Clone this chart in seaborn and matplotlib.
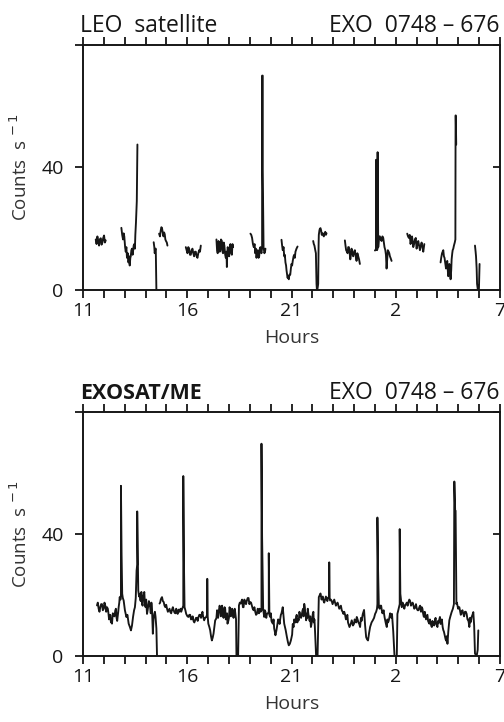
import numpy as np
import pandas as pd
import matplotlib
matplotlib.use("Agg")
import matplotlib.pyplot as plt
import seaborn as sns

sns.set_theme(style="white")
plt.rcParams["font.family"] = ["Open Sans", "DejaVu Sans"]

# ---------------- data (hours since 0h of day 1, counts/s) ----------------
# LEO satellite light curve: list of separate observation segments
leo_hours = [
    [11.61, 11.65, 11.69, 11.73, 11.77, 11.81, 11.85, 11.89, 11.93, 11.97, 12.01, 12.05, 12.09],
    [12.84, 12.88, 12.92, 12.95, 12.98, 13.02, 13.05, 13.08, 13.11, 13.15, 13.18, 13.21, 13.24,
     13.27, 13.29, 13.32, 13.35, 13.38, 13.40, 13.43, 13.46, 13.49, 13.51, 13.54, 13.58, 13.61],
    [14.39, 14.42, 14.44, 14.47, 14.49, 14.52],
    [14.65, 14.69, 14.73, 14.76, 14.79, 14.83, 14.86, 14.89, 14.92, 14.95, 14.98, 15.02, 15.05],
    [15.93, 15.97, 16.01, 16.05, 16.09, 16.13, 16.17, 16.21, 16.25, 16.29, 16.33, 16.37, 16.41,
     16.45, 16.49, 16.53, 16.57, 16.61, 16.65],
    [17.40, 17.43, 17.46, 17.50, 17.53, 17.56, 17.59, 17.62, 17.66, 17.69, 17.72, 17.75, 17.78,
     17.82, 17.85, 17.88, 17.90, 17.92, 17.94, 17.98, 18.01, 18.04, 18.07, 18.11, 18.14, 18.17, 18.20],
    [19.03, 19.07, 19.11, 19.15, 19.19, 19.23, 19.26, 19.29, 19.32, 19.35, 19.38, 19.42, 19.45,
     19.48, 19.51, 19.54, 19.56, 19.59, 19.59, 19.62, 19.62, 19.66, 19.68, 19.70, 19.73, 19.75],
    [20.52, 20.55, 20.58, 20.62, 20.65, 20.68, 20.71, 20.74, 20.76, 20.79, 20.81, 20.84, 20.87,
     20.90, 20.94, 20.97, 21.00, 21.03, 21.06, 21.10, 21.13, 21.16, 21.19, 21.24, 21.29],
    [22.04, 22.07, 22.10, 22.14, 22.17, 22.20, 22.22, 22.25, 22.28, 22.30, 22.31, 22.34, 22.36,
     22.39, 22.42, 22.45, 22.49, 22.52, 22.55, 22.58, 22.62, 22.65, 22.68],
    [23.56, 23.59, 23.62, 23.66, 23.69, 23.72, 23.75, 23.79, 23.82, 23.85, 23.88, 23.92, 23.96,
     24.00, 24.04, 24.08, 24.12, 24.16, 24.20, 24.24, 24.28],
    [25.00, 25.03, 25.05, 25.05, 25.08, 25.10, 25.13, 25.13, 25.16, 25.20, 25.24, 25.28, 25.32,
     25.36, 25.40, 25.43, 25.46, 25.50, 25.53, 25.56, 25.59, 25.62, 25.66, 25.69, 25.72, 25.75, 25.80],
    [26.55, 26.59, 26.63, 26.67, 26.71, 26.75, 26.78, 26.81, 26.84, 26.88, 26.92, 26.96, 27.00,
     27.04, 27.08, 27.12, 27.16, 27.20, 27.24, 27.28, 27.32, 27.35, 27.37],
    [28.15, 28.18, 28.22, 28.25, 28.28, 28.31, 28.34, 28.38, 28.41, 28.44, 28.47, 28.50, 28.52,
     28.55, 28.57, 28.60, 28.63, 28.66, 28.68, 28.71, 28.73, 28.76, 28.79, 28.83, 28.86, 28.87, 28.88, 28.90],
    [29.80, 29.83, 29.85, 29.88, 29.90, 29.94, 29.97, 29.99, 30.02],
]
leo_counts = [
    [16.5, 15.0, 17.5, 16.0, 14.5, 16.5, 16.9, 14.8, 15.5, 17.0, 17.8, 15.5, 16.2],
    [20.3, 18.0, 16.5, 18.5, 17.5, 14.0, 12.5, 14.0, 10.5, 12.0, 9.0, 11.0, 8.0,
     10.5, 11.0, 13.0, 13.5, 11.5, 12.5, 14.5, 15.0, 13.5, 18.0, 22.0, 29.0, 47.5],
    [15.6, 14.0, 12.0, 13.5, 13.5, 0.0],
    [18.4, 17.5, 19.5, 20.5, 20.2, 18.5, 17.5, 18.8, 18.2, 16.5, 16.0, 15.5, 14.5],
    [14.0, 13.0, 12.0, 14.0, 13.5, 11.5, 11.5, 13.0, 13.5, 12.0, 11.0, 12.5, 12.5,
     11.0, 10.5, 12.0, 13.0, 12.5, 14.5],
    [16.5, 13.0, 12.0, 16.0, 15.0, 12.5, 13.0, 16.5, 16.0, 12.5, 12.0, 15.5, 14.5,
     11.5, 10.5, 12.5, 7.5, 12.0, 14.0, 12.5, 11.0, 14.0, 15.0, 12.0, 11.5, 15.0, 14.0],
    [18.4, 18.0, 17.0, 15.0, 14.0, 15.0, 12.0, 13.5, 10.5, 12.0, 13.0, 10.5, 11.0,
     13.5, 14.0, 12.5, 12.0, 14.0, 70.0, 70.0, 39.0, 14.0, 13.0, 12.0, 12.5, 13.5],
    [16.4, 14.5, 13.0, 14.0, 11.0, 11.5, 9.0, 8.0, 6.5, 5.0, 4.0, 4.5, 3.5,
     5.0, 5.0, 7.0, 8.5, 8.0, 9.5, 11.0, 11.5, 10.5, 12.5, 13.5, 14.2],
    [16.0, 15.0, 14.5, 13.0, 12.0, 2.0, 0.0, 0.5, 2.0, 15.0, 18.0, 19.5, 20.0,
     20.2, 19.5, 18.0, 18.5, 18.0, 17.5, 18.5, 19.0, 18.0, 18.5],
    [16.2, 14.5, 13.0, 12.5, 12.0, 14.0, 14.0, 12.0, 10.0, 11.5, 13.5, 12.0, 11.0,
     12.5, 13.0, 11.0, 9.5, 12.0, 11.0, 10.0, 8.5],
    [12.9, 13.0, 13.5, 42.5, 42.5, 13.0, 13.5, 45.0, 14.0, 17.5, 17.5, 16.5, 16.0,
     17.5, 17.0, 15.5, 14.0, 13.0, 11.5, 7.0, 10.0, 13.0, 12.5, 12.0, 11.0, 10.5, 9.5],
    [18.4, 17.5, 17.0, 18.0, 15.0, 16.5, 17.5, 16.0, 14.0, 15.0, 16.5, 17.0, 13.5,
     15.0, 16.0, 14.5, 13.0, 14.5, 15.5, 14.0, 12.5, 14.0, 15.0],
    [9.0, 10.5, 12.0, 12.5, 13.0, 11.0, 10.5, 8.5, 7.0, 8.0, 9.5, 6.0, 4.5,
     7.0, 8.5, 6.0, 3.5, 6.5, 10.0, 12.0, 13.0, 13.5, 14.5, 15.5, 16.5, 57.0, 57.0, 47.5],
    [14.5, 12.5, 11.0, 7.0, 2.0, 0.0, 0.0, 0.5, 8.5],
]

# EXOSAT/ME light curve: two segments (gap near 14.6 h)
me_hours = [
    [11.67, 11.75, 11.83, 11.91, 11.99, 12.07, 12.15, 12.22, 12.28, 12.34, 12.39, 12.47, 12.55,
     12.61, 12.66, 12.71, 12.76, 12.80, 12.82, 12.82, 12.85, 12.88, 12.91, 12.95, 13.01, 13.08,
     13.13, 13.19, 13.25, 13.30, 13.35, 13.40, 13.45, 13.49, 13.53, 13.57, 13.60, 13.60, 13.65,
     13.69, 13.72, 13.77, 13.83, 13.88, 13.94, 14.00, 14.07, 14.13, 14.19, 14.25, 14.31, 14.35,
     14.38, 14.42, 14.45, 14.48, 14.52, 14.55],
    [14.67, 14.73, 14.79, 14.83, 14.87, 14.95, 15.03, 15.11, 15.19, 15.27, 15.35, 15.43, 15.50,
     15.58, 15.66, 15.71, 15.76, 15.79, 15.81, 15.81, 15.84, 15.87, 15.91, 15.95, 16.01, 16.06,
     16.14, 16.22, 16.30, 16.38, 16.46, 16.54, 16.62, 16.70, 16.76, 16.81, 16.86, 16.91, 16.95,
     16.96, 16.98, 17.01, 17.06, 17.10, 17.14, 17.18, 17.22, 17.26, 17.30, 17.34, 17.40, 17.45,
     17.52, 17.58, 17.64, 17.71, 17.76, 17.82, 17.88, 17.93, 18.00, 18.06, 18.12, 18.19, 18.25,
     18.30, 18.34, 18.36, 18.44, 18.46, 18.48, 18.52, 18.57, 18.63, 18.70, 18.78, 18.86, 18.94,
     19.02, 19.10, 19.18, 19.26, 19.34, 19.41, 19.47, 19.52, 19.56, 19.56, 19.59, 19.64, 19.69,
     19.75, 19.82, 19.87, 19.91, 19.91, 19.94, 19.98, 20.04, 20.11, 20.17, 20.23, 20.28, 20.33,
     20.40, 20.46, 20.52, 20.58, 20.62, 20.65, 20.72, 20.78, 20.83, 20.87, 20.92, 20.97, 21.03,
     21.10, 21.16, 21.22, 21.28, 21.35, 21.42, 21.50, 21.56, 21.61, 21.66, 21.70, 21.75, 21.81,
     21.87, 21.93, 21.98, 22.02, 22.07, 22.12, 22.15, 22.18, 22.25, 22.28, 22.31, 22.36, 22.41,
     22.47, 22.53, 22.61, 22.69, 22.75, 22.80, 22.81, 22.83, 22.85, 22.93, 23.01, 23.09, 23.17,
     23.25, 23.33, 23.41, 23.49, 23.57, 23.65, 23.71, 23.78, 23.84, 23.89, 23.95, 24.00, 24.06,
     24.13, 24.21, 24.29, 24.36, 24.42, 24.48, 24.53, 24.58, 24.62, 24.67, 24.72, 24.77, 24.84,
     24.90, 24.96, 25.01, 25.06, 25.10, 25.12, 25.12, 25.15, 25.19, 25.26, 25.33, 25.39, 25.44,
     25.50, 25.57, 25.63, 25.70, 25.76, 25.82, 25.88, 25.94, 26.05, 26.08, 26.14, 26.19, 26.19,
     26.22, 26.29, 26.37, 26.45, 26.53, 26.61, 26.69, 26.77, 26.85, 26.93, 27.01, 27.09, 27.17,
     27.25, 27.31, 27.36, 27.42, 27.49, 27.55, 27.61, 27.67, 27.73, 27.80, 27.88, 27.94, 28.00,
     28.06, 28.12, 28.18, 28.25, 28.31, 28.36, 28.42, 28.48, 28.52, 28.57, 28.62, 28.68, 28.74,
     28.79, 28.81, 28.81, 28.85, 28.87, 28.91, 28.96, 29.02, 29.08, 29.16, 29.24, 29.32, 29.40,
     29.47, 29.53, 29.58, 29.64, 29.68, 29.72, 29.76, 29.80, 29.88, 29.93, 29.96],
]
me_counts = [
    [16.6, 15.5, 16.0, 17.0, 15.5, 16.5, 16.0, 14.0, 12.8, 11.0, 10.6, 13.5, 15.0,
     12.5, 12.8, 16.0, 19.3, 18.5, 20.0, 55.8, 33.5, 20.4, 19.0, 18.2, 15.0, 12.8,
     13.5, 10.6, 9.5, 8.4, 10.0, 12.8, 15.0, 16.0, 19.0, 28.0, 30.0, 47.4, 21.5,
     19.5, 20.4, 18.0, 17.1, 19.5, 21.0, 16.0, 13.8, 16.5, 17.1, 14.0, 15.5, 7.3,
     12.0, 13.8, 14.5, 12.8, 9.0, 0.0],
    [17.2, 18.5, 19.3, 18.0, 17.7, 16.0, 15.5, 15.0, 14.4, 15.2, 15.0, 14.0, 14.4,
     15.2, 15.0, 14.5, 15.5, 16.0, 16.5, 59.0, 31.3, 16.0, 15.0, 13.8, 13.0, 12.8,
     13.5, 12.2, 11.5, 11.7, 12.5, 12.8, 13.5, 13.8, 13.0, 11.7, 12.5, 12.8, 13.5,
     25.3, 13.0, 10.6, 9.5, 8.4, 6.5, 5.1, 6.0, 7.3, 9.5, 11.7, 12.5, 13.8,
     15.0, 16.0, 14.0, 13.8, 15.0, 15.5, 13.0, 10.6, 12.5, 15.0, 14.0, 13.8, 15.0,
     14.4, 12.0, 0.0, 0.0, 8.0, 16.6, 17.5, 17.2, 18.5, 16.0, 17.5, 18.2, 19.0,
     17.7, 16.5, 15.0, 14.5, 13.8, 15.0, 15.5, 14.5, 15.0, 69.6, 38.9, 15.5, 12.8,
     14.5, 13.8, 14.0, 14.5, 33.7, 13.5, 12.8, 11.5, 10.6, 9.0, 6.8, 8.5, 10.6,
     11.5, 12.2, 14.0, 16.0, 13.0, 10.6, 8.5, 6.2, 4.5, 3.5, 4.0, 5.1, 7.0,
     9.5, 11.5, 12.8, 11.0, 11.7, 13.0, 13.8, 15.5, 17.1, 14.0, 11.7, 12.5, 13.8,
     11.5, 9.5, 11.5, 13.8, 11.0, 9.5, 5.0, 0.0, 0.0, 10.0, 19.3, 20.0, 19.8,
     19.0, 18.2, 18.5, 18.7, 19.0, 19.5, 30.7, 19.0, 18.2, 18.0, 17.7, 17.5, 17.1,
     16.5, 16.0, 15.0, 13.8, 13.5, 12.8, 11.0, 9.5, 10.5, 11.7, 10.0, 10.6, 11.5,
     12.8, 11.0, 9.5, 11.5, 13.8, 15.1, 10.0, 6.2, 5.5, 5.1, 7.5, 9.5, 11.0,
     11.7, 12.5, 13.8, 14.5, 15.5, 17.0, 45.4, 29.0, 16.0, 16.5, 15.0, 14.5, 13.8,
     11.5, 9.5, 11.0, 12.8, 13.5, 13.8, 8.0, 0.0, 0.0, 13.8, 15.5, 17.0, 41.6,
     20.4, 16.0, 16.8, 16.6, 17.5, 17.7, 18.0, 17.1, 16.5, 16.0, 15.5, 15.0, 16.5,
     16.0, 14.0, 12.8, 13.5, 12.8, 11.5, 10.6, 11.0, 9.5, 10.5, 11.7, 10.5, 9.5,
     11.0, 12.8, 11.0, 9.5, 8.0, 6.2, 5.0, 4.0, 8.0, 11.7, 13.0, 14.4, 15.5,
     17.0, 57.2, 57.2, 47.6, 47.6, 17.0, 16.6, 16.0, 15.0, 14.5, 13.8, 14.5, 13.8,
     12.0, 9.5, 11.0, 12.8, 13.5, 14.4, 10.0, 0.8, 0.0, 2.0, 8.4],
]

# additional short-timescale flicker samples of the EXOSAT/ME curve
me_extra_hours = [
    11.71, 11.79, 11.87, 11.95, 12.03, 12.11, 12.19, 12.25, 12.31, 12.37, 12.43, 12.51, 12.58,
    12.64, 12.69, 12.74, 13.74, 13.80, 13.86, 13.91, 13.97, 14.03, 14.10, 14.16, 14.22, 14.28,
    14.70, 14.76, 14.91, 14.99, 15.07, 15.15, 15.23, 15.31, 15.39, 15.47, 15.54, 15.62, 15.68,
    16.10, 16.18, 16.26, 16.34, 16.42, 16.50, 16.58, 16.66, 16.73,
    17.37, 17.43, 17.48, 17.55, 17.61, 17.67, 17.74, 17.79, 17.85, 17.91, 17.97, 18.03, 18.09,
    18.15, 18.22, 18.28,
    18.60, 18.67, 18.74, 18.82, 18.90, 18.98, 19.06, 19.14, 19.22, 19.30, 19.38, 19.44,
    19.72, 19.79, 20.01, 20.07, 20.14, 20.20, 20.36, 20.43, 20.49, 20.55,
    21.06, 21.13, 21.19, 21.25, 21.31, 21.38, 21.46, 21.53, 21.58, 21.64, 21.68, 21.73, 21.78,
    21.84, 21.90, 21.96, 22.00, 22.05, 22.10,
    22.39, 22.44, 22.50, 22.57, 22.65, 22.72, 22.89, 22.97, 23.05, 23.13, 23.21, 23.29, 23.37,
    23.45, 23.53, 23.61, 23.68,
    24.03, 24.10, 24.17, 24.25, 24.33,
    25.23, 25.30, 25.36, 25.42, 25.47, 25.53, 25.60, 25.66, 25.73, 25.79,
    26.33, 26.41, 26.49, 26.57, 26.65, 26.73, 26.81, 26.89, 26.97, 27.05, 27.13, 27.21, 27.28,
    27.34, 27.39, 27.45, 27.52, 27.58, 27.64, 27.70, 27.76, 27.84, 27.91, 27.97, 28.03, 28.09,
    28.15, 28.21, 28.28, 28.34, 28.39, 28.45,
    28.93, 28.99, 29.05, 29.12, 29.20, 29.28, 29.36, 29.44, 29.50, 29.56, 29.61,
]
me_extra_counts = [
    17.5, 14.5, 17.0, 15.0, 17.5, 14.5, 15.5, 12.0, 13.5, 11.5, 14.0, 13.0, 15.5,
    11.5, 14.5, 17.5, 18.5, 21.0, 16.5, 20.0, 17.0, 18.5, 15.0, 18.0, 16.0, 17.5,
    17.5, 19.0, 16.5, 16.8, 14.5, 15.5, 14.0, 16.0, 14.2, 15.5, 13.8, 14.5, 15.5,
    13.5, 12.0, 13.0, 11.0, 12.5, 11.5, 13.5, 12.5, 14.5,
    12.0, 15.0, 12.5, 16.5, 13.0, 16.5, 12.5, 16.0, 12.0, 14.0, 11.5, 16.0, 13.0,
    15.5, 12.5, 15.5,
    18.0, 16.0, 18.5, 17.0, 19.0, 17.0, 17.5, 15.5, 16.0, 13.5, 15.5, 14.0,
    15.0, 12.5, 14.0, 11.0, 12.0, 8.0, 12.0, 10.5, 13.5, 15.0,
    10.5, 12.0, 11.0, 13.5, 12.0, 14.5, 12.5, 15.0, 13.0, 16.0, 14.0, 12.5, 15.5,
    12.5, 13.0, 10.5, 12.5, 14.5, 12.0,
    20.5, 18.5, 19.5, 17.5, 19.5, 18.0, 18.5, 17.0, 18.5, 16.5, 17.5, 15.5, 16.5,
    14.5, 14.5, 12.0, 13.5,
    12.0, 11.0, 12.0, 10.5, 12.5,
    15.5, 16.5, 14.0, 15.0, 12.5, 10.5, 12.0, 11.5, 14.0, 12.5,
    17.5, 15.5, 17.0, 16.5, 18.5, 16.5, 17.5, 15.5, 17.0, 15.0, 16.0, 14.5, 15.5,
    13.0, 14.5, 12.0, 13.5, 11.0, 12.0, 10.0, 11.5, 10.0, 12.5, 10.0, 11.5, 12.0,
    10.5, 12.0, 8.5, 7.0, 5.5, 6.5,
    17.5, 15.5, 16.0, 13.5, 15.0, 13.0, 14.5, 12.0, 11.0, 12.5, 11.5,
]
me_gap_hour = 14.6

x_tick_hours = list(range(11, 32))
x_tick_labels = {11: "11", 16: "16", 21: "21", 26: "2", 31: "7"}
panel_left_titles = ["LEO  satellite", "EXOSAT/ME"]
panel_right_title = "EXO  0748 – 676"


def to_frame(hours, counts):
    rows = []
    for seg, (hh, cc) in enumerate(zip(hours, counts)):
        for i, (h, c) in enumerate(zip(hh, cc)):
            rows.append((h, c, seg, 0, i))
    return pd.DataFrame(rows, columns=["hour", "counts", "seg", "extra", "order"])


leo_df = to_frame(leo_hours, leo_counts)
me_df = to_frame(me_hours, me_counts)
extra = pd.DataFrame({"hour": me_extra_hours, "counts": me_extra_counts})
extra["seg"] = (extra["hour"] > me_gap_hour).astype(int)
extra["extra"] = 1
extra["order"] = 0
me_df = pd.concat([me_df, extra], ignore_index=True)
me_df = me_df.sort_values(["seg", "hour", "extra", "order"], kind="mergesort").reset_index(drop=True)

fig = plt.figure(figsize=(5.04, 7.22), dpi=100)
W, H = 504, 722
ink = "#161616"

panels = [
    (leo_df, 45, 290, panel_left_titles[0], "normal", 16.5),
    (me_df, 412, 656, panel_left_titles[1], "bold", 15.5),
]

for df, top_px, bot_px, ltitle, lweight, lsize in panels:
    ax = fig.add_axes([83 / W, 1 - bot_px / H, (500 - 83) / W, (bot_px - top_px) / H])
    sns.lineplot(data=df, x="hour", y="counts", units="seg", estimator=None,
                 sort=False, color=ink, linewidth=1.35, ax=ax, legend=False)
    ax.set_xlim(11, 31)
    ax.set_ylim(0, 80)
    ax.set_xticks(x_tick_hours)
    ax.set_xticklabels([x_tick_labels.get(h, "") for h in x_tick_hours])
    ax.set_yticks([0, 40, 80])
    ax.set_yticklabels(["0", "40", ""])
    ax.tick_params(axis="x", which="major", top=True, bottom=True, direction="out",
                   length=6, width=1.3, colors=ink, labelsize=14, pad=3)
    ax.tick_params(axis="y", which="major", left=True, right=False, direction="out",
                   length=6, width=1.3, colors=ink, labelsize=14, pad=8)
    sec = ax.secondary_yaxis("right")
    sec.set_yticks([40, 80])
    sec.set_yticklabels(["", ""])
    sec.tick_params(direction="in", length=5, width=1.3, colors=ink)
    sec.spines["right"].set_visible(False)
    for s in ax.spines.values():
        s.set_color(ink)
        s.set_linewidth(1.4)
    ax.set_xlabel("Hours", fontsize=14, color="#333333", labelpad=6)
    ax.set_ylabel("Counts  s$^{\\,-1}$", fontsize=13.5, color="#333333", labelpad=7)
    ax.grid(False)
    hpx = bot_px - top_px
    ax.text(-0.007, 1 + 13 / hpx, ltitle, transform=ax.transAxes, ha="left", va="baseline",
            fontsize=lsize, fontweight=lweight, color=ink)
    ax.text(1.0, 1 + 13 / hpx, panel_right_title, transform=ax.transAxes, ha="right",
            va="baseline", fontsize=16.5, color=ink)

fig.savefig("out.png", dpi=100, facecolor="white")
